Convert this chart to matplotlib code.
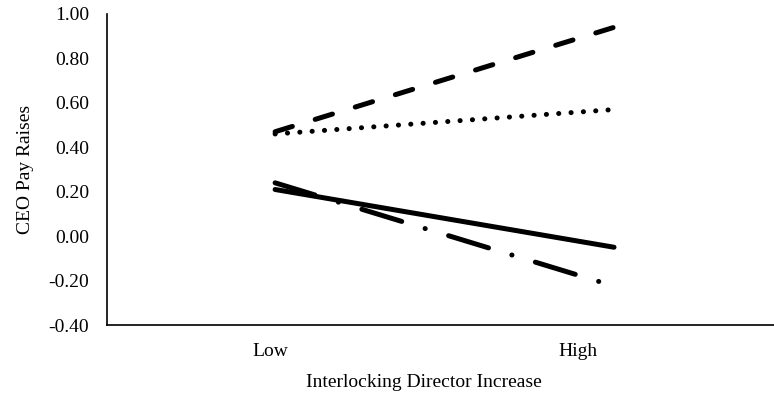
import matplotlib.pyplot as plt
import numpy as np

plt.rcParams['font.family'] = ['Liberation Serif', 'DejaVu Serif']
plt.rcParams['lines.scale_dashes'] = False

# data
levels = ['Low', 'High']
dashed_vals = [0.47, 0.94]
dotted_vals = [0.46, 0.57]
solid_vals = [0.21, -0.05]
dashdot_vals = [0.24, -0.225]
yticks = [-0.40, -0.20, 0.00, 0.20, 0.40, 0.60, 0.80, 1.00]

x = np.arange(len(levels))

fig = plt.figure(figsize=(7.74, 3.98), dpi=100)
ax = fig.add_axes([107/774, 73/398, 667/774, 311/398])

lw = 3.6
ax.plot(x, dashed_vals, color='black', lw=lw, dash_capstyle='round',
        solid_capstyle='round', dashes=(13, 17.2))
ax.plot(x, dotted_vals, color='black', lw=lw, dash_capstyle='round',
        solid_capstyle='round', dashes=(0.1, 8.8))
ax.plot(x, solid_vals, color='black', lw=lw, solid_capstyle='round')
ax.plot(x, dashdot_vals, color='black', lw=lw, dash_capstyle='round',
        solid_capstyle='round', dashes=(30, 17.6, 0.1, 17.6))

ax.set_xlim(-0.496, 1.472)
ax.set_ylim(-0.40, 1.00)
ax.set_yticks(yticks)
ax.set_yticklabels([f'{v:.2f}' for v in yticks])
# category labels sit slightly left of the line ends in the original
ax.set_xticks([-0.015, 0.894])
ax.set_xticklabels(levels)
ax.tick_params(length=0, labelsize=14)
ax.tick_params(axis='y', pad=13)
ax.tick_params(axis='x', pad=13)

for s in ['top', 'right']:
    ax.spines[s].set_visible(False)
for s in ['left', 'bottom']:
    ax.spines[s].set_linewidth(1.2)
    ax.spines[s].set_color('black')

ax.set_ylabel('CEO Pay Raises', fontsize=14)
ax.yaxis.set_label_coords(-0.109, 0.5)
ax.set_xlabel('Interlocking Director Increase', fontsize=14)
ax.xaxis.set_label_coords(0.475, -0.159)

fig.savefig('out.png', dpi=100)
